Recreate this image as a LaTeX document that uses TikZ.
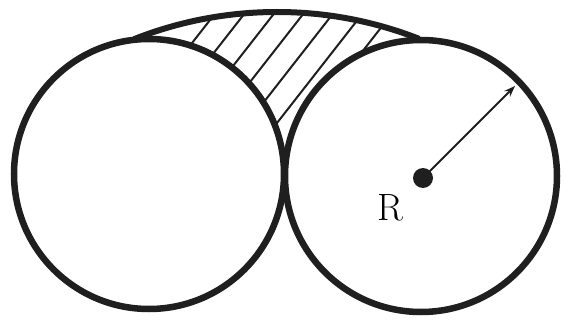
\documentclass[tikz,border=0pt]{standalone}
\usetikzlibrary{arrows.meta}
\begin{document}
\begin{tikzpicture}[x=1pt,y=-1pt,
  thick ring/.style={line width=6.5pt,draw=black!88},
  hatchline/.style={line width=2pt,draw=black!88},
  radius arrow/.style={line width=1.8pt,draw=black!88,-{Stealth[length=11pt,width=8pt]}}]
\useasboundingbox (0,0) rectangle (568,326);
\coordinate (CL) at (149,174);
\coordinate (CR) at (421,176);
\coordinate (CB) at (277,400);
% hatching between the arc and the two circles
\begin{scope}
  \clip (0,0) rectangle (568,175);
  \clip (CB) circle (388);
  \foreach \x in {210,239.5,269,298.5,328,357.5,387}{
    \draw[hatchline] (\x-0.616*260,20+0.788*260) -- (\x+0.616*40,20-0.788*40);
  }
\end{scope}
% top arc
\begin{scope}
  \clip (133,0) rectangle (420,60);
  \draw[thick ring,line width=6pt] (CB) circle (388);
\end{scope}
% circles
\draw[thick ring,fill=white] (CL) circle (135);
\draw[thick ring,fill=white] (CR) circle (136);
% radius
\node[circle,fill=black!88,inner sep=0pt,minimum size=20pt] (dot) at (423,178) {};
\coordinate (rim) at (515,86);
\draw[radius arrow] (dot.center) -- (rim);
\node[font=\fontsize{38}{38}\selectfont] (R) at (390,208) {R};
\end{tikzpicture}
\end{document}
